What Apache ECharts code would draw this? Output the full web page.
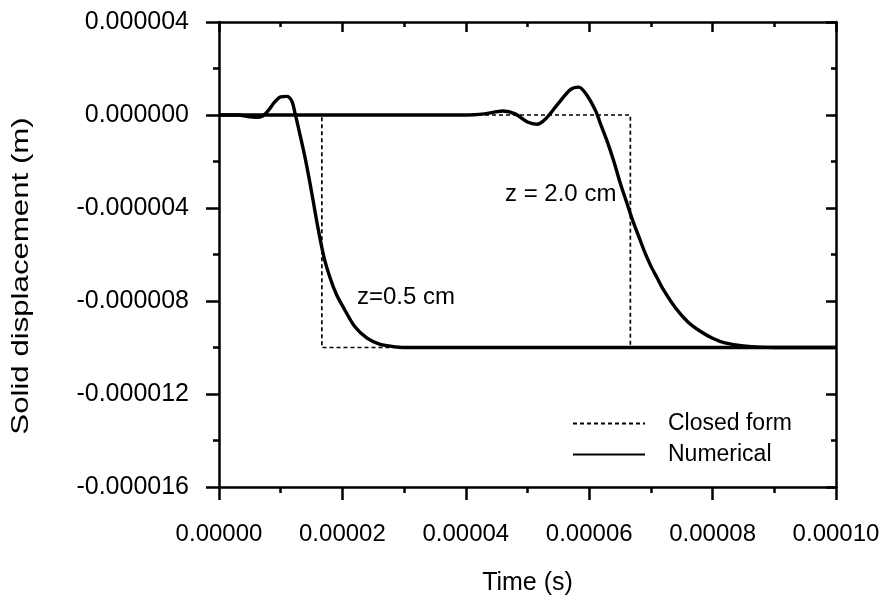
<!DOCTYPE html>
<html>
<head>
<meta charset="utf-8">
<script src="https://cdn.jsdelivr.net/npm/echarts@6/dist/echarts.min.js"></script>
<style>html,body{margin:0;padding:0;background:#fff}#c{width:888px;height:601px}</style>
</head>
<body>
<div id="c"></div>
<script>
// time in microseconds, displacement in micrometres (labels show SI units)
const xTicks = [0, 20, 40, 60, 80, 100];
const yTicks = [-16, -12, -8, -4, 0, 4];

const closedZ05 = [[0, 0], [16.67, 0], [16.67, -10], [100, -10]];
const closedZ20 = [[0, 0], [66.67, 0], [66.67, -10], [100, -10]];

const numTimeZ05 = [0, 3, 5, 6, 7, 8, 9, 10, 11, 11.8, 12.3, 13, 14, 15, 16, 17, 18, 19, 20, 22, 24, 26, 28, 30, 35, 100];
const numValZ05  = [0, 0, -0.08, -0.1, -0.05, 0.2, 0.55, 0.78, 0.8, 0.6, 0.1, -0.7, -1.9, -3.3, -4.8, -6.1, -7.0, -7.7, -8.2, -9.1, -9.6, -9.85, -9.95, -10, -10, -10];

const numTimeZ20 = [0, 40, 43, 46, 48, 50, 51.5, 53, 55, 57, 58.3, 59.5, 61, 62, 63, 64, 65, 66, 67, 68, 69, 70, 71, 72, 74, 76, 78, 80, 82, 85, 90, 100];
const numValZ20  = [0, 0, 0.05, 0.17, 0.05, -0.3, -0.4, -0.15, 0.5, 1.1, 1.2, 0.9, 0.2, -0.5, -1.2, -2.0, -2.9, -3.7, -4.5, -5.2, -5.9, -6.5, -7.0, -7.5, -8.3, -8.9, -9.3, -9.6, -9.8, -9.93, -10, -10];

const xTitle = 'Time (s)';
const yTitle = 'Solid displacement (m)';
const annotations = [
  {text: 'z=0.5 cm', left: 357, top: 285},
  {text: 'z = 2.0 cm', left: 505, top: 182}
];

const zip = (a, b) => a.map((t, i) => [t, b[i]]);
const FONT = '"Liberation Sans", Arial, sans-serif';
const FS = 24;
const AXW = 2.5;

const xBase = {
  type: 'value', min: xTicks[0], max: xTicks[xTicks.length - 1], interval: 20,
  splitLine: {show: false},
  axisLine: {show: true, onZero: false, lineStyle: {color: '#000', width: AXW}},
  minorSplitLine: {show: false}
};
const yBase = {
  type: 'value', min: yTicks[0], max: yTicks[yTicks.length - 1], interval: 4,
  splitLine: {show: false},
  axisLine: {show: true, onZero: false, lineStyle: {color: '#000', width: AXW}},
  minorSplitLine: {show: false}
};

const chart = echarts.init(document.getElementById('c'), null, {renderer: 'canvas'});
chart.setOption({
  animation: false,
  backgroundColor: '#fff',
  textStyle: {fontFamily: FONT, color: '#000'},
  grid: {left: 219, right: 52, top: 22, bottom: 109, containLabel: false},
  xAxis: [
    Object.assign({}, xBase, {
      position: 'bottom',
      name: xTitle, nameLocation: 'middle', nameGap: 84,
      nameTextStyle: {fontSize: 25, color: '#000', fontFamily: FONT},
      axisTick: {show: true, inside: false, length: 13, lineStyle: {color: '#000', width: AXW}},
      minorTick: {show: true, splitNumber: 2, length: 6, lineStyle: {color: '#000', width: AXW}},
      axisLabel: {show: true, margin: 35, fontSize: FS, color: '#000', fontFamily: FONT,
        formatter: v => (v / 1e6).toFixed(5)}
    }),
    Object.assign({}, xBase, {
      position: 'top',
      axisTick: {show: true, inside: true, length: 10, lineStyle: {color: '#000', width: AXW}},
      minorTick: {show: true, splitNumber: 2, length: 5, lineStyle: {color: '#000', width: AXW}},
      axisLabel: {show: false}
    })
  ],
  yAxis: [
    Object.assign({}, yBase, {
      position: 'left',
      axisTick: {show: true, inside: false, length: 13, lineStyle: {color: '#000', width: AXW}},
      minorTick: {show: true, splitNumber: 2, length: 6, lineStyle: {color: '#000', width: AXW}},
      axisLabel: {show: true, margin: 30, fontSize: 25, color: '#000', fontFamily: FONT,
        formatter: v => (v / 1e6).toFixed(6)}
    }),
    Object.assign({}, yBase, {
      position: 'right',
      axisTick: {show: true, inside: true, length: 10, lineStyle: {color: '#000', width: AXW}},
      minorTick: {show: true, splitNumber: 2, length: 5, lineStyle: {color: '#000', width: AXW}},
      axisLabel: {show: false}
    })
  ],
  legend: {
    orient: 'vertical', left: 572, top: 412, padding: 0,
    itemWidth: 72, itemHeight: 14, itemGap: 8,
    itemStyle: {opacity: 0},
    textStyle: {fontSize: 23, color: '#000', fontFamily: FONT, padding: [0, 0, 0, 18]},
    data: ['Closed form', 'Numerical']
  },
  graphic: [
    {
      type: 'text', x: 21, y: 276, rotation: Math.PI / 2, scaleX: 1.3,
      style: {text: yTitle, fontSize: 24, fill: '#000', fontFamily: FONT, align: 'center', verticalAlign: 'middle'}
    }
  ].concat(annotations.map(a => ({
    type: 'text', left: a.left, top: a.top,
    style: {text: a.text, fontSize: FS, fill: '#000', fontFamily: FONT}
  }))),
  series: [
    {name: 'Closed form', type: 'line', data: closedZ05, symbol: 'none', z: 3,
      lineStyle: {color: '#000', width: 1.7, type: [4, 3]}, itemStyle: {color: '#000'}},
    {name: 'Closed form', type: 'line', data: closedZ20, symbol: 'none', z: 3,
      lineStyle: {color: '#000', width: 1.7, type: [4, 3]}, itemStyle: {color: '#000'}},
    {name: 'Numerical', type: 'line', data: zip(numTimeZ05, numValZ05), symbol: 'none', smooth: 0.3, z: 2,
      lineStyle: {color: '#000', width: 3.4}, itemStyle: {color: '#000'}},
    {name: 'Numerical', type: 'line', data: zip(numTimeZ20, numValZ20), symbol: 'none', smooth: 0.3, z: 2,
      lineStyle: {color: '#000', width: 3.4}, itemStyle: {color: '#000'}}
  ]
});
</script>
</body>
</html>
